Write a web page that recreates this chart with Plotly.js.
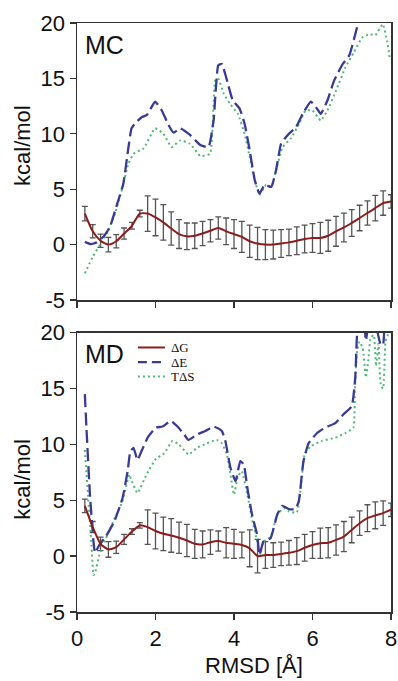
<!DOCTYPE html>
<html>
<head>
<meta charset="utf-8">
<script src="https://cdn.plot.ly/plotly-3.0.1.min.js"></script>
<style>html,body{margin:0;padding:0;background:#fff;}#chart{width:398px;height:681px;}</style>
</head>
<body>
<div id="chart"></div>
<script>
// ---- data ----
const rmsd = [0.2,0.4,0.6,0.8,1.0,1.2,1.4,1.6,1.8,2.0,2.2,2.4,2.6,2.8,3.0,3.2,3.4,3.6,3.8,4.0,
              4.2,4.4,4.6,4.8,5.0,5.2,5.4,5.6,5.8,6.0,6.2,6.4,6.6,6.8,7.0,7.2,7.4,7.6,7.8,8.0];

// MC panel
const mcDG  = [2.8,1.2,0.35,0.0,0.3,1.0,1.7,2.8,2.8,2.45,2.0,1.45,0.95,0.75,0.8,1.0,1.25,1.5,1.2,0.95,
               0.7,0.3,0.1,0.0,0.0,0.1,0.2,0.35,0.5,0.6,0.6,0.8,1.2,1.55,1.95,2.4,2.85,3.3,3.75,3.9];
const mcErr = [0.65,0.6,0.6,0.65,0.6,0.5,0.3,0.3,1.6,1.65,1.6,1.5,1.3,1.2,1.15,1.1,1.0,1.0,1.2,1.3,
               1.4,1.45,1.45,1.35,1.3,1.25,1.2,1.25,1.25,1.3,1.4,1.4,1.35,1.3,1.2,1.15,1.1,1.15,1.1,0.6];
const mcDEx = [0.2,0.35,0.5,0.67,0.84,1.0,1.18,1.3,1.39,1.52,1.65,1.78,1.99,2.16,2.33,2.46,2.63,2.88,3.14,3.35,
               3.48,3.6,3.69,3.8,3.97,4.14,4.27,4.4,4.53,4.65,4.78,4.95,5.07,5.2,5.37,5.58,5.75,5.96,6.09,6.21,
               6.38,6.55,6.77,6.94,7.15,7.3];
const mcDE  = [0.25,0.05,0.2,0.7,1.6,3.4,5.5,8.5,10.5,11.1,11.5,11.7,12.9,12.1,10.8,10.1,10.5,9.9,9.0,8.8,
               11.2,16.2,16.3,15.1,13.0,12.3,10.9,8.5,5.8,4.6,5.4,5.2,6.7,9.1,9.9,10.6,11.8,12.9,12.4,11.8,
               13.0,14.8,16.3,17.1,19.8,21.5];
const mcTSx = [0.2,0.4,0.59,0.76,0.97,1.14,1.31,1.44,1.7,1.99,2.2,2.41,2.63,2.88,3.14,3.39,3.52,3.6,3.74,3.9,
               4.1,4.27,4.4,4.53,4.65,4.82,4.95,5.07,5.24,5.45,5.66,5.82,6.0,6.21,6.38,6.6,6.84,7.06,7.27,7.46,
               7.6,7.79,7.9,7.97];
const mcTS  = [-2.6,-1.1,0.0,1.0,2.8,4.9,7.3,8.2,8.7,10.5,10.0,8.8,9.4,9.1,8.0,8.2,14.8,15.0,13.6,12.7,
               11.8,10.0,7.9,5.8,4.5,5.4,5.2,6.7,8.8,9.6,10.9,12.1,12.1,11.2,12.1,13.9,16.0,17.4,18.7,19.0,
               18.9,19.9,18.4,16.8];

// MD panel
const mdDG  = [4.5,2.6,1.1,0.6,0.8,1.5,2.2,2.75,2.6,2.25,2.0,1.85,1.65,1.4,1.1,1.05,1.25,1.35,1.2,1.1,
               1.0,0.7,0.0,0.1,0.1,0.2,0.3,0.45,0.75,1.0,1.15,1.2,1.45,1.75,2.35,2.95,3.4,3.65,3.85,4.15];
const mdErr = [0.6,0.5,0.6,0.7,0.55,0.45,0.25,0.25,1.55,1.6,1.5,1.5,1.4,1.45,1.3,1.2,1.1,0.9,1.35,1.3,
               1.15,1.65,1.5,1.2,1.1,1.05,1.1,1.2,1.2,1.2,1.35,1.35,1.35,1.35,1.15,1.1,1.2,1.2,1.1,0.6];
const mdDEx = [0.2,0.24,0.33,0.42,0.46,0.57,0.74,0.95,1.16,1.29,1.36,1.44,1.54,1.62,1.8,2.01,2.18,2.39,2.56,2.73,
               2.84,3.06,3.27,3.48,3.69,3.78,3.91,4.04,4.16,4.25,4.34,4.46,4.59,4.65,4.75,4.93,5.1,5.23,5.4,5.56,
               5.65,5.77,5.9,6.11,6.32,6.58,6.79,7.0,7.09,7.13,7.2,7.3,7.36,7.42,7.5,7.62,7.74,7.8,7.86,8.0];
const mdDE  = [14.5,11.5,5.5,1.3,0.3,1.0,1.8,3.1,5.2,7.6,9.4,9.7,8.6,9.2,10.6,11.5,11.6,12.1,11.6,10.9,
               10.4,10.9,11.2,11.6,11.2,10.3,7.9,6.7,8.5,8.2,6.1,3.7,1.9,0.1,1.3,1.6,3.7,4.5,4.2,4.2,
               4.9,8.5,10.1,11.0,11.5,11.9,12.7,13.4,16.0,19.5,22,21.5,19.3,20.8,23,20.7,18.9,19.0,22.5,24];
const mdTSx = [0.2,0.28,0.37,0.42,0.46,0.57,0.74,0.95,1.16,1.33,1.4,1.54,1.77,2.01,2.22,2.43,2.6,2.84,3.06,3.31,
               3.56,3.69,3.82,3.91,4.0,4.1,4.2,4.34,4.46,4.59,4.65,4.75,4.93,5.1,5.27,5.4,5.6,5.68,5.8,5.94,
               6.23,6.58,6.83,7.04,7.08,7.14,7.2,7.28,7.36,7.42,7.48,7.56,7.62,7.68,7.74,7.8,7.86,7.92,8.0];
const mdTS  = [9.5,5.5,1.0,-1.7,-1.5,0.1,1.6,3.3,4.9,7.3,6.7,5.65,7.3,8.7,9.2,10.3,10.0,9.1,9.7,10.1,
               10.4,10.1,9.1,7.3,5.5,7.15,7.6,5.5,3.3,1.3,0.1,1.3,1.7,3.7,4.3,4.0,3.9,5.5,9.1,9.8,
               10.3,10.6,11.0,11.5,15.0,18.5,19.2,18.6,16.0,17.5,19.5,19.8,17.0,19.0,15.3,15.0,19.2,19.8,20.2];

const seriesNames = ['\u0394G', '\u0394E', 'T\u0394S'];
const panelNames = ['MC', 'MD'];
const xTicks = [0, 2, 4, 6, 8];
const yTickVals = [-5, 0, 5, 10, 15, 20];
const yTickText = ['-5', '0', '5', '10', '15', '20'];

// ---- styles ----
const cG = 'rgb(139,28,28)', cE = 'rgb(58,58,150)', cS = 'rgb(80,185,120)', cErr = '#555';
const sans = 'Liberation Sans, Arial, sans-serif';

function panel(xa, ya, dg, err, dex, de, tsx, ts) {
  return [
    {x: rmsd, y: dg, xaxis: xa, yaxis: ya, type: 'scatter', mode: 'markers',
     marker: {size: 1, opacity: 0}, hoverinfo: 'skip', showlegend: false,
     error_y: {type: 'data', array: err, visible: true, color: cErr, thickness: 1.3, width: 3}},
    {x: tsx, y: ts, xaxis: xa, yaxis: ya, type: 'scatter', mode: 'lines', showlegend: false,
     line: {color: cS, width: 2, dash: '2px,3px', shape: 'spline', smoothing: 0.4}},
    {x: dex, y: de, xaxis: xa, yaxis: ya, type: 'scatter', mode: 'lines', showlegend: false,
     line: {color: cE, width: 2.3, dash: '13px,5px', shape: 'spline', smoothing: 0.4}},
    {x: rmsd, y: dg, xaxis: xa, yaxis: ya, type: 'scatter', mode: 'lines', showlegend: false,
     line: {color: cG, width: 2, shape: 'spline', smoothing: 0.6}}
  ];
}

const data = [].concat(
  panel('x', 'y', mcDG, mcErr, mcDEx, mcDE, mcTSx, mcTS),
  panel('x2', 'y2', mdDG, mdErr, mdDEx, mdDE, mdTSx, mdTS)
);

const axisCommon = {
  range: [0, 8], tickvals: xTicks, ticks: 'outside', ticklen: 6, tickwidth: 1.3, tickcolor: '#333',
  showline: true, linecolor: '#333', linewidth: 1.5, mirror: true, showgrid: false, zeroline: false,
  tickfont: {family: sans, size: 22, color: '#111'}
};
const yCommon = {
  range: [-5, 20], tickvals: yTickVals, ticktext: yTickText, ticks: 'outside', ticklen: 6, tickwidth: 1.3,
  tickcolor: '#333', showline: true, linecolor: '#333', linewidth: 1.5, mirror: true,
  showgrid: false, zeroline: false, tickfont: {family: sans, size: 22, color: '#111'}
};

// legend drawn in paper coordinates
const legY = [0.4491, 0.4244, 0.3998];
const legStyles = [
  {color: cG, width: 2},
  {color: cE, width: 2.3, dash: '9px,5px'},
  {color: cS, width: 2, dash: '2px,3px'}
];
const shapes = legY.map((yy, i) => ({
  type: 'line', xref: 'paper', yref: 'paper', x0: 0.194, x1: 0.280, y0: yy, y1: yy, line: legStyles[i]
}));
const annotations = legY.map((yy, i) => ({
  xref: 'paper', yref: 'paper', x: 0.297, y: yy, xanchor: 'left', yanchor: 'middle', showarrow: false,
  borderpad: 0,
  text: seriesNames[i], font: {family: 'Liberation Serif, Times New Roman, serif', size: 13, color: '#111'}
}));
annotations.push(
  {xref: 'x', yref: 'y', x: 0.16, y: 18.0, xanchor: 'left', yanchor: 'middle', showarrow: false,
   text: panelNames[0], font: {family: sans, size: 25, color: '#111'}},
  {xref: 'x2', yref: 'y2', x: 0.16, y: 18.1, xanchor: 'left', yanchor: 'middle', showarrow: false,
   text: panelNames[1], font: {family: sans, size: 25, color: '#111'}},
  {xref: 'paper', yref: 'paper', x: 0.564, y: -0.1155, xanchor: 'center', yanchor: 'bottom', showarrow: false,
   text: 'RMSD [\u00c5]', font: {family: sans, size: 22, color: '#111'}},
  {xref: 'paper', yref: 'paper', x: -0.176, y: 0.7925, xanchor: 'center', yanchor: 'middle', showarrow: false,
   textangle: -90, text: 'kcal/mol', font: {family: sans, size: 22, color: '#111'}},
  {xref: 'paper', yref: 'paper', x: -0.176, y: 0.2258, xanchor: 'center', yanchor: 'middle', showarrow: false,
   textangle: -90, text: 'kcal/mol', font: {family: sans, size: 22, color: '#111'}}
);

const layout = {
  width: 398, height: 681,
  margin: {l: 77, r: 7, t: 23, b: 69},
  paper_bgcolor: '#fff', plot_bgcolor: '#fff',
  showlegend: false,
  xaxis: Object.assign({}, axisCommon, {anchor: 'y', showticklabels: false}),
  yaxis: Object.assign({}, yCommon, {domain: [0.5297, 1], anchor: 'x'}),
  xaxis2: Object.assign({}, axisCommon, {anchor: 'y2', showticklabels: true}),
  yaxis2: Object.assign({}, yCommon, {domain: [0, 0.4742], anchor: 'x2'}),
  shapes: shapes,
  annotations: annotations
};

Plotly.newPlot('chart', data, layout, {displayModeBar: false, staticPlot: true});
</script>
</body>
</html>
